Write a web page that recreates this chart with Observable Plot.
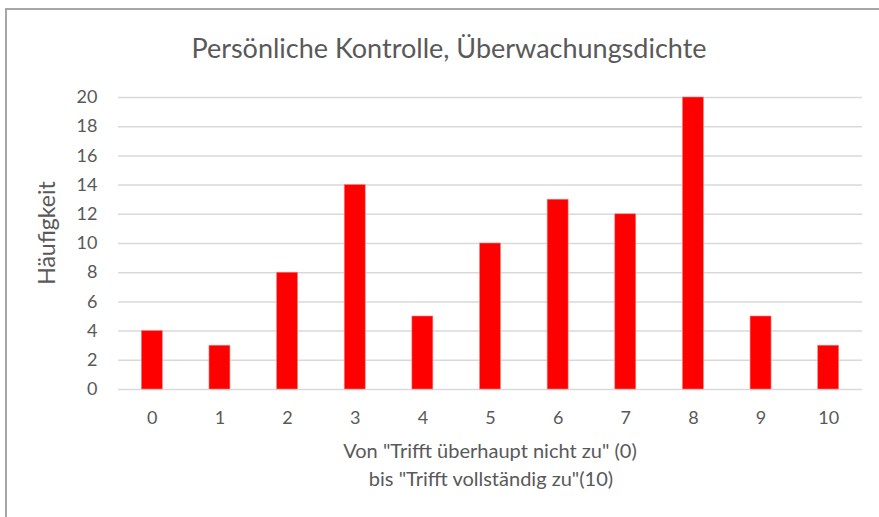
<!DOCTYPE html>
<html>
<head>
<meta charset="utf-8">
<script src="https://cdn.jsdelivr.net/npm/d3@7"></script>
<script src="https://cdn.jsdelivr.net/npm/@observablehq/plot@0.6"></script>
<style>
  body { margin: 0; background: #fff; }
  #wrap { position: relative; width: 879px; height: 517px; overflow: hidden; font-family: Lato, "Open Sans", sans-serif; color: #595959; }
  #frame { position: absolute; left: 5px; top: 8px; width: 900px; height: 540px; border-left: 2px solid #a6a6a6; border-top: 2px solid #a6a6a6; box-sizing: border-box; }
  .t { position: absolute; white-space: nowrap; transform: translate(-50%, -50%); }
  #title { left: 449px; top: 47px; font-size: 27px; }
  #ytitle { left: 46px; top: 233px; font-size: 23px; transform: translate(-50%, -50%) rotate(-90deg); }
  #xtitle1 { left: 490px; top: 450px; font-size: 20px; }
  #xtitle2 { left: 491px; top: 478px; font-size: 20px; }
  #chart { position: absolute; left: 0; top: 0; }
</style>
</head>
<body>
<div id="wrap">
  <div id="frame"></div>
  <div id="chart"></div>
  <div class="t" id="title">Persönliche Kontrolle, Überwachungsdichte</div>
  <div class="t" id="ytitle">Häufigkeit</div>
  <div class="t" id="xtitle1">Von "Trifft überhaupt nicht zu" (0)</div>
  <div class="t" id="xtitle2">bis "Trifft vollständig zu"(10)</div>
</div>
<script>
const categories = ["0","1","2","3","4","5","6","7","8","9","10"];
const counts = [4, 3, 8, 14, 5, 10, 13, 12, 20, 5, 3];
const yTicks = [0, 2, 4, 6, 8, 10, 12, 14, 16, 18, 20];

const data = categories.map((c, i) => ({cat: c, n: counts[i]}));

const chart = Plot.plot({
  width: 879,
  height: 517,
  marginLeft: 118,
  marginRight: 17,
  marginTop: 97,
  marginBottom: 128,
  style: {fontFamily: "Lato, 'Open Sans', sans-serif", fontSize: "18px", color: "#595959", background: "transparent"},
  x: {domain: categories, round: false, paddingInner: 0.69, paddingOuter: 0.345, label: null, tickSize: 0, tickPadding: 22},
  y: {domain: [0, 20], ticks: yTicks, label: null, tickSize: 0, tickPadding: 21},
  marks: [
    Plot.ruleY(yTicks, {stroke: "#d9d9d9", strokeWidth: 1.5}),
    Plot.barY(data, {x: "cat", y: "n", fill: "#ff0000", stroke: "#ff8080", strokeWidth: 0.6})
  ]
});
document.getElementById("chart").appendChild(chart);
</script>
</body>
</html>
